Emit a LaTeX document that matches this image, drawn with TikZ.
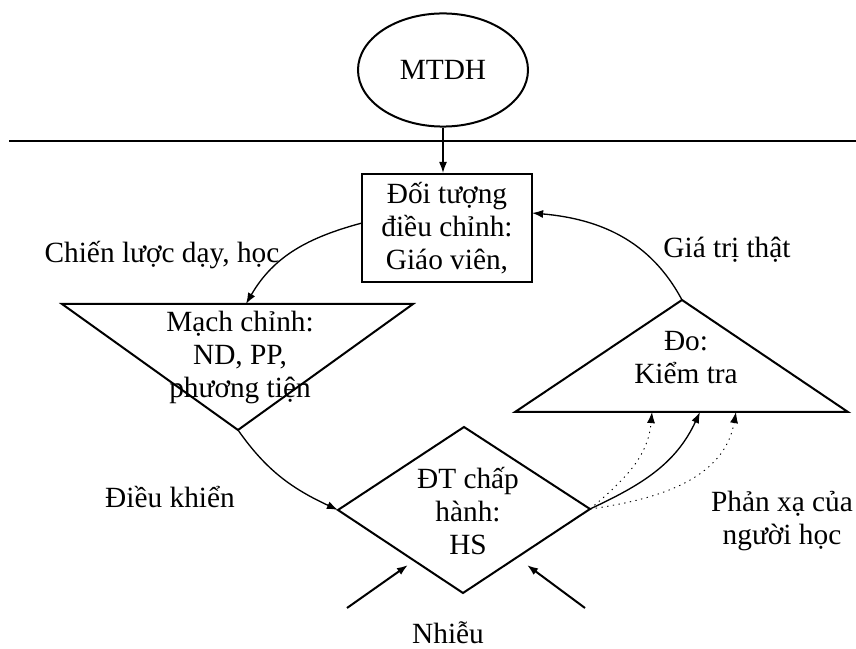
\documentclass[tikz,border=0pt]{standalone}
\usepackage{fontspec}
\setmainfont{Liberation Serif}
\usetikzlibrary{shapes.geometric,arrows.meta}

\tikzset{
  shp/.style={line width=0.9pt},
  con/.style={line width=0.6pt,-{Latex[length=5pt,width=3.6pt]}},
  refl/.style={con,dotted,line width=0.4pt},
  lbl/.style={align=center,inner sep=0pt}
}

\begin{document}
\begin{tikzpicture}[x=0.45pt,y=0.45pt,font=\fontsize{13.2}{14.85}\selectfont]
                    \useasboundingbox (0,0) rectangle (856,648);
                    \node[draw,shp,ellipse,minimum width=76.5pt,minimum height=50.9pt] (mtdh) at (443,578) {MTDH};
                    \draw[shp] (9,507) -- (856,507);
                    \node[draw,shp,lbl,minimum width=76.5pt,minimum height=48.6pt] (dtdc) at (447,420) {Đối tượng\\điều chỉnh:\\Giáo viên,};

                    \coordinate (mA) at (62,344);
                    \coordinate (mB) at (413,344);
                    \coordinate (mC) at (238,218);
                    \draw[shp] (mA) -- (mB) -- (mC) -- cycle;
                    \node[lbl] (mach) at (240,291) {Mạch chỉnh:\\ND, PP,\\phương tiện};

                    \coordinate (dT) at (464,221);
                    \coordinate (dL) at (338,138);
                    \coordinate (dR) at (590,139);
                    \coordinate (dB) at (463,55);
                    \draw[shp] (dT) -- (dR) -- (dB) -- (dL) -- cycle;
                    \node[lbl] (hs) at (468,137) {ĐT chấp\\hành:\\HS};

                    \coordinate (kA) at (515,236);
                    \coordinate (kB) at (848,236);
                    \coordinate (kC) at (682,348);
                    \draw[shp] (kA) -- (kB) -- (kC) -- cycle;
                    \node[lbl] (kt) at (686,290) {Đo:\\Kiểm tra};

                    \coordinate (cOut) at (362,425);
                    \coordinate (mIn) at (246,344);
                    \coordinate (gIn) at (532,435);
                    \coordinate (k1) at (652,236);
                    \coordinate (k2) at (700,236);
                    \coordinate (k3) at (736,236);
                    \coordinate (n1) at (347,40);
                    \coordinate (n1e) at (408,83);
                    \coordinate (n2) at (585,40);
                    \coordinate (n2e) at (527,83);

                    \draw[con] (mtdh.south) -- (mtdh.south |- dtdc.north);
                    \draw[con] (cOut) to[out=195,in=60] (mIn);
                    \draw[con] (mC) to[out=-55,in=155] (dL);
                    \draw[con] (kC) to[out=118,in=-5] (gIn);
                    \draw[con] (dR) to[out=25,in=-115] (k2);
                    \draw[refl] (dR) to[out=40,in=-95] (k1);
                    \draw[refl] (dR) to[out=8,in=-100] (k3);
                    \foreach \a/\b in {n1/n1e,n2/n2e} \draw[con,line width=0.9pt] (\a) -- (\b);

                    \node (chien) at (162,393) {Chiến lược dạy, học};
                    \node (dieu) at (170,151) {Điều khiển};
                    \node (gia) at (727,398) {Giá trị thật};
                    \node[lbl] (phan) at (782,127) {Phản xạ của\\người học};
                    \node (nhieu) at (448,15) {Nhiễu};
                \end{tikzpicture}
\end{document}
